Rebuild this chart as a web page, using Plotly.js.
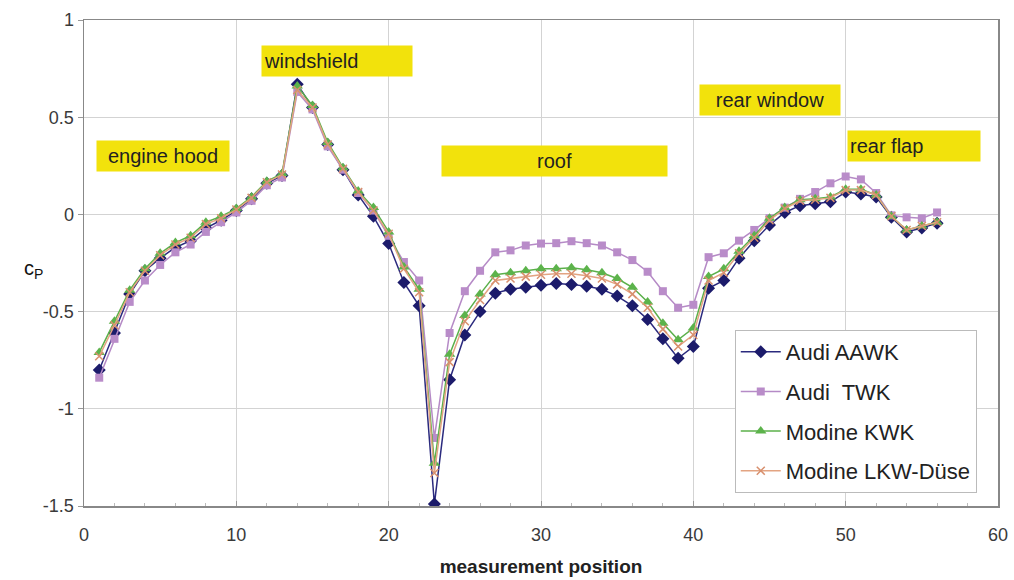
<!DOCTYPE html>
<html>
<head>
<meta charset="utf-8">
<script src="https://cdn.plot.ly/plotly-3.0.1.min.js"></script>
<style>html,body{margin:0;padding:0;background:#fff;}#chart{width:1014px;height:580px;}</style>
</head>
<body>
<div id="chart"></div>
<script>
const positions = Array.from({length: 56}, (_, i) => i + 1);

const audiAAWK = [-0.80,-0.61,-0.41,-0.29,-0.225,-0.17,-0.135,-0.07,-0.03,0.02,
  0.08,0.16,0.20,0.67,0.55,0.36,0.23,0.10,-0.01,-0.15,
  -0.35,-0.47,-1.49,-0.85,-0.62,-0.50,-0.405,-0.385,-0.375,-0.365,
  -0.355,-0.36,-0.37,-0.385,-0.42,-0.47,-0.54,-0.64,-0.74,-0.68,
  -0.38,-0.34,-0.225,-0.135,-0.055,0.01,0.045,0.055,0.065,0.115,
  0.105,0.09,-0.015,-0.09,-0.07,-0.045];

const audiTWK = [-0.84,-0.64,-0.45,-0.34,-0.26,-0.195,-0.155,-0.09,-0.04,0.01,
  0.07,0.15,0.19,0.63,0.54,0.35,0.23,0.11,0.02,-0.11,
  -0.245,-0.34,-1.15,-0.61,-0.395,-0.29,-0.195,-0.185,-0.16,-0.15,
  -0.148,-0.138,-0.148,-0.16,-0.195,-0.235,-0.295,-0.395,-0.48,-0.465,
  -0.22,-0.20,-0.135,-0.08,-0.02,0.035,0.08,0.115,0.16,0.195,
  0.18,0.11,-0.005,-0.015,-0.02,0.01];

const modineKWK = [-0.71,-0.55,-0.39,-0.28,-0.20,-0.145,-0.11,-0.04,-0.01,0.03,
  0.09,0.17,0.21,0.66,0.56,0.37,0.24,0.12,0.035,-0.09,
  -0.27,-0.385,-1.28,-0.72,-0.52,-0.41,-0.31,-0.30,-0.29,-0.28,
  -0.28,-0.275,-0.285,-0.30,-0.33,-0.375,-0.45,-0.56,-0.645,-0.585,
  -0.32,-0.28,-0.19,-0.11,-0.02,0.035,0.075,0.08,0.09,0.13,
  0.13,0.10,-0.01,-0.08,-0.06,-0.04];

const modineLKW = [-0.73,-0.57,-0.40,-0.29,-0.21,-0.155,-0.12,-0.05,-0.02,0.025,
  0.085,0.165,0.205,0.64,0.55,0.36,0.235,0.115,0.02,-0.10,
  -0.28,-0.40,-1.33,-0.76,-0.55,-0.44,-0.34,-0.33,-0.32,-0.31,
  -0.305,-0.305,-0.315,-0.33,-0.36,-0.41,-0.48,-0.59,-0.68,-0.62,
  -0.34,-0.30,-0.20,-0.12,-0.03,0.03,0.07,0.075,0.085,0.125,
  0.125,0.10,-0.01,-0.08,-0.06,-0.04];

const seriesNames = ['Audi AAWK', 'Audi  TWK', 'Modine KWK', 'Modine LKW-Düse'];

const yTickVals = [-1.5, -1, -0.5, 0, 0.5, 1];
const yTickText = ['-1.5', '-1', '-0.5', '0', '0.5', '1'];

const regionLabels = ['engine hood', 'windshield', 'roof', 'rear window', 'rear flap'];
const regionX = [5.2, 16.6, 30.9, 45.0, 54.5];
const regionY = [0.30, 0.79, 0.277, 0.59, 0.35];
const regionW = [128, 146, 221, 136, 128];
const regionAlign = ['center', 'left', 'center', 'center', 'left'];

const FONT = 'Liberation Sans, Arial, sans-serif';

const traces = [
  {x: positions, y: audiAAWK, name: seriesNames[0], legendgroup: 'a', mode: 'lines+markers',
   line: {color: '#2b2a7e', width: 1.5},
   marker: {symbol: 'diamond', size: 10, color: '#1c1b6b'}},
  {x: positions, y: audiTWK, name: seriesNames[1], legendgroup: 'b', mode: 'lines+markers',
   line: {color: '#b58ac6', width: 1.5},
   marker: {symbol: 'square', size: 8, color: '#b98cc9'}},
  {x: positions, y: modineKWK, name: seriesNames[2], legendgroup: 'c', mode: 'lines+markers',
   line: {color: '#5bb04a', width: 1.5},
   marker: {symbol: 'triangle-up', size: 10, color: '#5cb34b'}},
  {x: positions, y: modineLKW, name: seriesNames[3], legendgroup: 'd', mode: 'lines+markers',
   line: {color: '#e3a482', width: 1.5},
   marker: {symbol: 'x-thin-open', size: 8, color: '#d8906e', line: {width: 1.5, color: '#d8906e'}}}
];

const annotations = regionLabels.map((t, i) => ({
  x: regionX[i], y: regionY[i], xref: 'x', yref: 'y',
  text: t, showarrow: false,
  bgcolor: '#f2e20c', width: regionW[i], height: 26, align: regionAlign[i],
  borderpad: 2,
  font: {family: FONT, size: 20, color: '#222'}
}));
annotations.push({
  x: -0.068, y: 0.486, xref: 'paper', yref: 'paper', showarrow: false,
  text: 'c<sub>P</sub>', xanchor: 'left', yanchor: 'middle',
  font: {family: FONT, size: 20, color: '#111'}
});

const layout = {
  width: 1014, height: 580,
  margin: {l: 84, r: 16, t: 20, b: 74},
  paper_bgcolor: '#ffffff', plot_bgcolor: '#ffffff',
  showlegend: true,
  legend: {x: 0.712, y: 0.362, xanchor: 'left', yanchor: 'top',
    bgcolor: '#ffffff', bordercolor: '#bbbbbb', borderwidth: 1,
    font: {family: FONT, size: 22, color: '#222'},
    tracegroupgap: 8, itemwidth: 40},
  xaxis: {range: [0, 60], dtick: 10, tick0: 0, showgrid: true, gridcolor: '#d3d3d3',
    zeroline: false, showline: true, linecolor: '#888', linewidth: 1.5, mirror: true,
    ticks: 'inside', ticklen: 5, tickcolor: '#999', ticklabelstandoff: 12,
    minor: {dtick: 2, ticks: 'inside', ticklen: 3, tickcolor: '#bbb', showgrid: false},
    tickfont: {family: FONT, size: 18, color: '#3a3a3a'},
    title: {text: '<b>measurement position</b>', standoff: 15,
      font: {family: FONT, size: 19, color: '#222'}}},
  yaxis: {range: [-1.5, 1], tickmode: 'array', tickvals: yTickVals, ticktext: yTickText,
    showgrid: true, gridcolor: '#d3d3d3',
    zeroline: false, showline: true, linecolor: '#888', linewidth: 1.5, mirror: true,
    ticks: 'outside', ticklen: 5, tickcolor: '#999',
    tickfont: {family: FONT, size: 18, color: '#3a3a3a'}},
  annotations: annotations
};

Plotly.newPlot('chart', traces, layout, {displayModeBar: false, staticPlot: true});
</script>
</body>
</html>
